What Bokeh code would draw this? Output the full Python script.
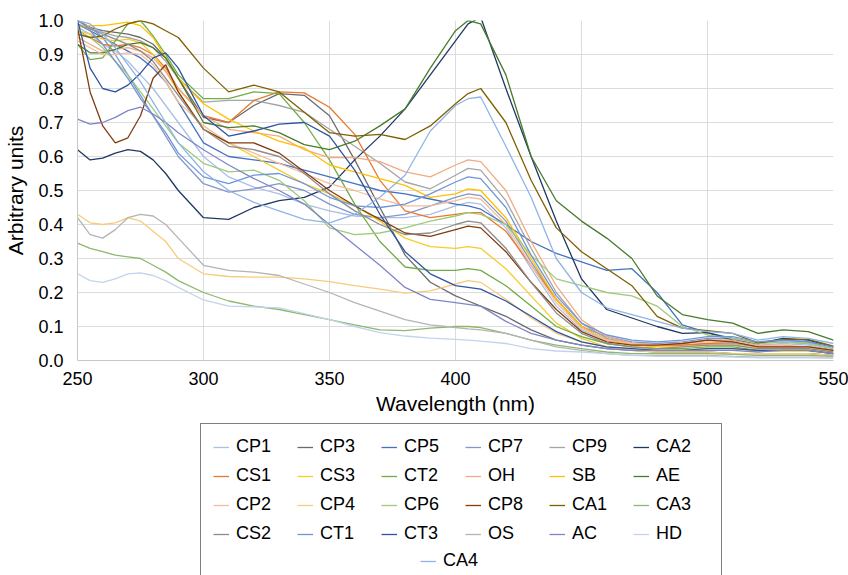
from bokeh.plotting import figure
from bokeh.layouts import column
from bokeh.models import Legend, LegendItem, Range1d, FixedTicker, NumeralTickFormatter
from bokeh.embed import file_html
from bokeh.resources import INLINE

# Wavelength grid (nm)
WL = [250, 255, 260, 265, 270, 275, 280, 285, 290,
      300, 310, 320, 330, 340, 350, 360, 370, 380, 390, 400,
      405, 410,
      420, 430, 440, 450, 460, 470, 480, 490, 500, 510, 520, 530, 540, 550]

CP1 = [.98, .96, .93, .91, .88, .84, .80, .75, .70, .60, .54, .51, .49, .46, .44, .425, .42, .42, .43, .455, .465, .46, .39, .27, .16, .09, .06, .05, .045, .05, .06, .06, .045, .05, .045, .03]
CP3 = [1.0, .98, .97, .965, .96, .95, .93, .89, .83, .715, .70, .75, .785, .78, .72, .59, .45, .31, .23, .19, .175, .16, .13, .09, .06, .045, .035, .03, .025, .025, .025, .02, .02, .02, .02, .015]
CP5 = [.99, .97, .95, .93, .91, .89, .86, .82, .76, .64, .60, .59, .58, .56, .54, .52, .50, .49, .475, .46, .455, .445, .40, .35, .315, .29, .265, .27, .20, .105, .082, .065, .05, .06, .055, .04]
CP7 = [1.0, .98, .95, .90, .84, .78, .72, .66, .60, .52, .495, .505, .52, .50, .46, .43, .42, .43, .455, .48, .49, .485, .41, .29, .18, .10, .07, .055, .05, .055, .065, .065, .05, .055, .05, .035]
CP9 = [.99, .975, .965, .955, .95, .94, .92, .88, .83, .76, .765, .765, .75, .73, .68, .63, .58, .525, .505, .545, .565, .56, .47, .33, .20, .11, .065, .05, .045, .045, .05, .05, .04, .04, .04, .03]
CA2 = [.62, .59, .595, .61, .62, .615, .59, .55, .50, .42, .415, .45, .47, .48, .51, .59, .66, .74, .84, .94, .99, 1.01, .80, .60, .41, .24, .15, .125, .10, .08, .082, .06, .05, .065, .06, .04]
CS1 = [.97, .95, .93, .925, .93, .92, .90, .86, .80, .72, .70, .765, .79, .787, .745, .665, .53, .44, .42, .43, .435, .435, .38, .28, .18, .10, .06, .05, .045, .045, .05, .055, .04, .04, .04, .03]
CS3 = [.97, .96, .945, .94, .945, .935, .90, .85, .79, .68, .64, .60, .56, .52, .49, .455, .41, .36, .335, .33, .335, .33, .27, .19, .11, .065, .04, .035, .03, .03, .035, .035, .028, .028, .028, .02]
CT2 = [.93, .885, .89, .94, .99, 1.0, .955, .90, .84, .77, .77, .79, .785, .70, .59, .46, .35, .275, .265, .265, .27, .265, .22, .16, .10, .07, .05, .04, .035, .035, .04, .04, .03, .03, .03, .02]
OH = [.95, .93, .91, .915, .92, .91, .89, .85, .80, .72, .68, .67, .66, .62, .597, .597, .585, .555, .54, .575, .59, .585, .50, .35, .22, .12, .07, .05, .045, .05, .06, .06, .045, .045, .04, .03]
SB = [.98, .985, .985, .99, .995, .985, .95, .89, .83, .755, .71, .675, .645, .625, .575, .555, .535, .515, .48, .49, .505, .50, .42, .30, .18, .10, .06, .045, .04, .04, .045, .045, .035, .035, .035, .025]
AE = [.93, .905, .905, .915, .93, .935, .92, .89, .83, .70, .685, .69, .67, .635, .62, .645, .69, .74, .86, .97, 1.0, .99, .84, .60, .47, .41, .36, .30, .19, .135, .12, .11, .08, .09, .085, .06]
CP2 = [.94, .92, .90, .90, .905, .90, .87, .82, .76, .69, .64, .61, .58, .55, .52, .50, .475, .455, .455, .47, .48, .475, .40, .28, .17, .095, .06, .05, .045, .05, .055, .055, .04, .04, .04, .03]
CP4 = [.43, .405, .40, .405, .42, .41, .38, .35, .30, .255, .247, .245, .245, .24, .232, .22, .21, .198, .205, .225, .235, .23, .18, .125, .08, .055, .04, .03, .025, .025, .025, .02, .02, .02, .02, .015]
CP6 = [.97, .95, .92, .88, .84, .79, .74, .69, .64, .58, .555, .56, .53, .47, .39, .37, .375, .39, .41, .425, .435, .43, .40, .31, .24, .22, .20, .19, .16, .10, .075, .065, .05, .055, .05, .035]
CP8 = [.98, .79, .69, .64, .655, .72, .83, .87, .79, .68, .64, .64, .61, .555, .50, .455, .415, .375, .365, .385, .395, .39, .32, .23, .15, .085, .055, .045, .045, .05, .06, .055, .04, .04, .04, .03]
CA1 = [.96, .95, .955, .975, .99, 1.0, .99, .97, .95, .86, .79, .81, .79, .73, .67, .66, .665, .65, .69, .755, .785, .80, .70, .53, .39, .32, .27, .22, .13, .095, .088, .08, .052, .062, .062, .042]
CA3 = [.345, .33, .32, .31, .305, .30, .28, .26, .235, .20, .175, .16, .15, .135, .12, .105, .09, .088, .095, .10, .10, .097, .08, .06, .045, .035, .025, .02, .02, .02, .02, .018, .015, .015, .015, .012]
CS2 = [1.0, .975, .96, .945, .93, .91, .88, .83, .78, .68, .63, .62, .60, .55, .49, .44, .40, .37, .375, .40, .41, .405, .33, .23, .14, .08, .05, .04, .035, .04, .045, .045, .035, .035, .035, .025]
CT1 = [.99, .97, .93, .88, .83, .77, .72, .67, .61, .54, .52, .545, .55, .52, .48, .455, .45, .46, .49, .525, .54, .535, .45, .31, .19, .11, .075, .06, .055, .06, .07, .07, .055, .06, .055, .04]
CT3 = [1.0, .86, .80, .79, .81, .845, .89, .905, .86, .72, .66, .675, .695, .70, .66, .56, .43, .32, .255, .22, .215, .21, .175, .13, .085, .055, .04, .035, .03, .03, .035, .035, .03, .03, .03, .02]
OS = [.42, .37, .36, .385, .42, .43, .425, .40, .36, .28, .265, .26, .25, .225, .20, .17, .145, .12, .105, .097, .093, .09, .08, .06, .04, .03, .02, .015, .015, .015, .015, .012, .01, .01, .01, .01]
AC = [.71, .695, .70, .715, .735, .745, .725, .70, .67, .62, .575, .535, .50, .46, .40, .34, .28, .215, .18, .17, .165, .16, .115, .08, .06, .045, .035, .03, .03, .03, .03, .03, .025, .03, .03, .02]
HD = [.255, .235, .23, .24, .255, .258, .25, .235, .215, .178, .16, .158, .155, .138, .12, .10, .082, .072, .066, .062, .06, .057, .05, .035, .028, .025, .02, .015, .012, .012, .012, .01, .008, .008, .008, .006]
CA4 = [1.0, .99, .96, .92, .87, .82, .76, .70, .64, .555, .50, .465, .44, .415, .405, .43, .48, .545, .675, .75, .77, .775, .63, .48, .30, .20, .155, .135, .115, .095, .085, .08, .06, .07, .065, .05]

NAMES = ["CP1", "CP3", "CP5", "CP7", "CP9", "CA2",
         "CS1", "CS3", "CT2", "OH", "SB", "AE",
         "CP2", "CP4", "CP6", "CP8", "CA1", "CA3",
         "CS2", "CT1", "CT3", "OS", "AC", "HD",
         "CA4"]
DATA = {"CP1": CP1, "CP3": CP3, "CP5": CP5, "CP7": CP7, "CP9": CP9, "CA2": CA2,
        "CS1": CS1, "CS3": CS3, "CT2": CT2, "OH": OH, "SB": SB, "AE": AE,
        "CP2": CP2, "CP4": CP4, "CP6": CP6, "CP8": CP8, "CA1": CA1, "CA3": CA3,
        "CS2": CS2, "CT1": CT1, "CT3": CT3, "OS": OS, "AC": AC, "HD": HD, "CA4": CA4}

COLORS = {"CP1": "#A9BFE5", "CP3": "#6B6B6B", "CP5": "#4472C4", "CP7": "#8497C9",
          "CP9": "#A5A5A5", "CA2": "#1F3864", "CS1": "#E9782F", "CS3": "#F5CC2A",
          "CT2": "#70AD47", "OH": "#F2AA84", "SB": "#FFC000", "AE": "#4A7A2C",
          "CP2": "#F5BE98", "CP4": "#F7CB7E", "CP6": "#9DCB7C", "CP8": "#843C0C",
          "CA1": "#7F6000", "CA3": "#8DB86E", "CS2": "#8C8C8C", "CT1": "#6F96D8",
          "CT3": "#2F55A0", "OS": "#B4B4B4", "AC": "#7F86C8", "HD": "#C2D3EE",
          "CA4": "#8FB4E6"}

FONT = "Liberation Sans"
LW = 1.3

# ---------------- main chart ----------------
p = figure(width=848, height=417, output_backend="svg", toolbar_location=None,
           x_range=Range1d(250, 550), y_range=Range1d(0, 1.0),
           min_border_left=77, min_border_right=15, min_border_top=20, min_border_bottom=57)
p.outline_line_color = None
p.background_fill_color = "white"

for n in NAMES:
    p.line(WL, DATA[n], line_color=COLORS[n], line_width=LW)

XT = [250, 300, 350, 400, 450, 500, 550]
YT = [0, 0.1, 0.2, 0.3, 0.4, 0.5, 0.6, 0.7, 0.8, 0.9, 1.0]
p.xaxis.ticker = FixedTicker(ticks=XT)
p.yaxis.ticker = FixedTicker(ticks=YT)
p.yaxis.formatter = NumeralTickFormatter(format="0.0")
p.xgrid.ticker = FixedTicker(ticks=XT)
p.ygrid.ticker = FixedTicker(ticks=YT)
p.grid.grid_line_color = "#DCDCDC"
p.grid.grid_line_width = 1

for ax in (p.xaxis, p.yaxis):
    ax.axis_line_color = "#C8C8C8"
    ax.axis_line_width = 1
    ax.major_tick_line_color = None
    ax.minor_tick_line_color = None
    ax.major_label_text_font = FONT
    ax.major_label_text_font_size = "18px"
    ax.major_label_text_color = "#000000"
    ax.axis_label_text_font = FONT
    ax.axis_label_text_font_size = "21px"
    ax.axis_label_text_font_style = "normal"
    ax.axis_label_text_color = "#000000"

p.xaxis.axis_label = "Wavelength (nm)"
p.yaxis.axis_label = "Arbitrary units"
p.xaxis.major_label_standoff = 5
p.yaxis.major_label_standoff = 8
p.xaxis.axis_label_standoff = 4
p.yaxis.axis_label_standoff = 8

# ---------------- legend panel ----------------
q = figure(width=848, height=158, output_backend="svg", toolbar_location=None,
           x_range=Range1d(0, 1), y_range=Range1d(0, 1),
           min_border_left=0, min_border_right=0, min_border_top=0, min_border_bottom=0,
           x_axis_location=None, y_axis_location=None)
q.outline_line_color = None
q.xgrid.visible = False
q.ygrid.visible = False

proxies = {n: q.line([-5, -4], [-5, -4], line_color=COLORS[n], line_width=LW) for n in NAMES}
blank = q.line([-5, -4], [-5, -4], line_alpha=0)
items = [LegendItem(label=n, renderers=[proxies[n]]) for n in NAMES[:-1]]
items += [LegendItem(label=" ", renderers=[blank])]
common = dict(label_text_font=FONT, label_text_font_size="18px", label_text_color="#000000",
              glyph_width=16, glyph_height=20, label_standoff=7,
              label_width=53, label_height=20, spacing=8, margin=0)
legend = Legend(items=items, orientation="horizontal", ncols=6,
                location=(123, -10), padding=12,
                border_line_color="#000000", border_line_width=1,
                background_fill_color="white", background_fill_alpha=1.0, **common)
q.add_layout(legend)

# CA4 alone on the last row, centred like the reference
legend2 = Legend(items=[LegendItem(label="CA4", renderers=[proxies["CA4"]])],
                 orientation="horizontal", location=(343, 4), padding=0,
                 border_line_color=None, background_fill_alpha=0.0, **common)
q.add_layout(legend2)

open("out.html", "w").write(file_html(column(p, q, spacing=0), INLINE))
